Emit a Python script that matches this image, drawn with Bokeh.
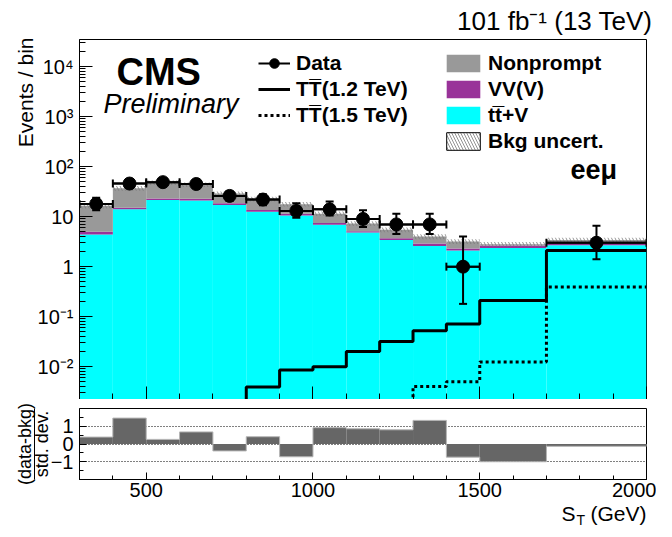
import math
from bokeh.plotting import figure
from bokeh.layouts import column
from bokeh.models import (ColumnDataSource, FixedTicker, Label, Legend, LegendItem,
                          Whisker, TeeHead, Range1d, Title, LinearAxis)
from bokeh.embed import file_html
from bokeh.resources import INLINE

# ---------------- data ----------------
bin_edges = [300, 400, 500, 600, 700, 800, 900, 1000, 1100, 1200, 1300, 1400, 1500, 1700, 2000]
ttV = [4.4, 14.1, 21.5, 21.0, 17.2, 12.5, 10.5, 6.9, 4.8, 3.4, 2.6, 2.1, 2.35, 2.67]
VVV = [0.6, 0.9, 1.5, 1.7, 1.4, 1.1, 0.9, 0.6, 0.3, 0.3, 0.3, 0.2, 0.3, 0.28]
nonprompt = [11.5, 22.0, 25.0, 21.0, 10.4, 8.9, 6.4, 4.0, 2.2, 1.8, 1.1, 0.9, 0.15, 0.45]
bkg_unc = [2.0, 4.0, 5.0, 4.5, 3.0, 2.4, 1.9, 1.2, 0.8, 0.6, 0.45, 0.35, 0.3, 0.4]
sig_12 = [None, None, None, None, 0, 0.0039, 0.0086, 0.010, 0.020, 0.032, 0.052, 0.071, 0.21, 2.1]
sig_15 = [None, None, None, None, None, 0, 0, 0, 0, 0, 0.004, 0.005, 0.0124, 0.39]
data_n = [18, 46, 49, 45, 26, 22, 13, 14, 9, 7, 7, 1, None, 3]
data_lo = [13.5, 39, 42, 38, 20.5, 17, 9.5, 10.5, 6.2, 4.5, 4.5, 0.18, None, 1.4]
data_hi = [24, 54, 57, 53, 32, 28, 18.5, 20, 13.5, 11.5, 11.5, 4.0, None, 6.6]
pull = [0.39, 1.46, 0.26, 0.68, -0.39, 0.41, -0.72, 0.92, 0.86, 0.80, 1.33, -0.74, -1.0, -0.13]

y_major = [1e-2, 1e-1, 1, 10, 1e2, 1e3, 1e4]
y_major_labels = ["10\u207b\u00b2", "10\u207b\u00b9", "1", "10", "10\u00b2", "10\u00b3", "10\u2074"]
x_major = [500, 1000, 1500, 2000]

FONT = "Liberation Sans"
Y_MIN, Y_MAX = 0.0022, 3.5e4
FLOOR = 1e-6
LB, RB, FW = 79, 10, 567
C_TTV, C_VV, C_NP = "#00ffff", "#993399", "#999999"

lefts = bin_edges[:-1]
rights = bin_edges[1:]
c1 = ttV
c2 = [a + b for a, b in zip(ttV, VVV)]
c3 = [a + b for a, b in zip(c2, nonprompt)]


def set_standoff(t, v, fallback=0):
    try:
        t.standoff = v
    except Exception:
        t.standoff = fallback


# ---------------- main figure ----------------
p = figure(frame_width=FW, frame_height=360, min_border_left=LB, min_border_right=RB,
           min_border_top=38, min_border_bottom=0, y_axis_type="log",
           x_range=Range1d(300, 2000), y_range=Range1d(Y_MIN, Y_MAX),
           output_backend="svg", toolbar_location=None)
p.outline_line_color = "black"
p.outline_line_width = 1
p.grid.visible = False

p.title.text = "101 fb\u207b\u00b9 (13 TeV)"
p.title.align = "right"
p.title.text_font = FONT
p.title.text_font_size = "26px"
p.title.text_font_style = "normal"
p.title.text_color = "black"
p.title.offset = -6
p.title.standoff = 7

r_tt = p.quad(left=lefts, right=rights, bottom=[FLOOR] * len(c1), top=c1, fill_color=C_TTV, line_color=None)
r_vv = p.quad(left=lefts, right=rights, bottom=c1, top=c2, fill_color=C_VV, line_color=None)
r_np = p.quad(left=lefts, right=rights, bottom=c2, top=c3, fill_color=C_NP, line_color=None)
band_src = ColumnDataSource(dict(left=lefts, right=rights,
                                 bottom=[t - u for t, u in zip(c3, bkg_unc)],
                                 top=[t + u for t, u in zip(c3, bkg_unc)]))
p.quad(left="left", right="right", bottom="bottom", top="top", source=band_src,
       fill_color=None, line_color=None, hatch_pattern="\\", hatch_color="#777777",
       hatch_weight=0.8, hatch_scale=7)
r_un = p.quad(left="left", right="right", bottom="bottom", top="top", source=band_src,
              fill_color=None, line_color="black", line_width=1, hatch_pattern="\\",
              hatch_color="#777777", hatch_weight=0.8, hatch_scale=6, visible=False)


def step_xy(vals):
    xs, ys = [], []
    for i, v in enumerate(vals):
        if v is None:
            continue
        yv = v if v > 0 else FLOOR
        xs += [bin_edges[i], bin_edges[i + 1]]
        ys += [yv, yv]
    return xs, ys


x12, y12 = step_xy(sig_12)
x15, y15 = step_xy(sig_15)
r12 = p.line(x12, y12, line_color="black", line_width=3)
r15 = p.line(x15, y15, line_color="black", line_width=3, line_dash="3 3")

idx = [i for i, v in enumerate(data_n) if v is not None]
dsrc = ColumnDataSource(dict(
    x=[(bin_edges[i] + bin_edges[i + 1]) / 2 for i in idx],
    y=[data_n[i] for i in idx],
    lo=[data_lo[i] for i in idx],
    hi=[data_hi[i] for i in idx],
    xlo=[bin_edges[i] for i in idx],
    xhi=[bin_edges[i + 1] for i in idx],
))
r_dseg = p.segment(x0="xlo", y0="y", x1="xhi", y1="y", source=dsrc, line_color="black", line_width=2)
p.add_layout(Whisker(source=dsrc, base="x", lower="lo", upper="hi", dimension="height",
                     line_width=2, line_color="black", level="glyph",
                     upper_head=TeeHead(size=8, line_width=2), lower_head=TeeHead(size=8, line_width=2)))
p.add_layout(Whisker(source=dsrc, base="y", lower="xlo", upper="xhi", dimension="width",
                     line_width=2, line_color="black", level="glyph",
                     upper_head=TeeHead(size=8, line_width=2), lower_head=TeeHead(size=8, line_width=2)))
r_dpt = p.scatter("x", "y", source=dsrc, size=13, fill_color="black", line_color="black")

leg_common = dict(border_line_color=None, background_fill_alpha=0, padding=0, margin=0,
                  label_text_font=FONT, label_text_font_style="bold", label_text_font_size="21px",
                  label_text_color="black", spacing=2, label_height=24, label_text_baseline="middle")
leg1 = Legend(items=[LegendItem(label="Data", renderers=[r_dseg, r_dpt]),
                     LegendItem(label="TT\u0305(1.2 TeV)", renderers=[r12]),
                     LegendItem(label="TT\u0305(1.5 TeV)", renderers=[r15])],
              location=(179, 272), glyph_width=32, glyph_height=24, label_standoff=6, **leg_common)
leg2 = Legend(items=[LegendItem(label="Nonprompt", renderers=[r_np]),
                     LegendItem(label="VV(V)", renderers=[r_vv]),
                     LegendItem(label="tt\u0305+V", renderers=[r_tt]),
                     LegendItem(label="Bkg uncert.", renderers=[r_un])],
              location=(363, 246), glyph_width=42, glyph_height=22, label_standoff=4, **leg_common)
p.add_layout(leg1)
p.add_layout(leg2)

# axes styling
p.yaxis.ticker = FixedTicker(ticks=y_major,
                             minor_ticks=[m * 10 ** e for e in range(-3, 5) for m in range(2, 10)])
p.yaxis.major_label_overrides = {float(k): v for k, v in zip(y_major, y_major_labels)}
p.xaxis.ticker = FixedTicker(ticks=x_major, minor_ticks=list(range(300, 2001, 100)))
for ax in (p.xaxis[0], p.yaxis[0]):
    ax.major_tick_in = 13
    ax.major_tick_out = 0
    ax.minor_tick_in = 6
    ax.minor_tick_out = 0
    ax.axis_line_color = "black"
    ax.major_tick_line_color = "black"
    ax.minor_tick_line_color = "black"
p.yaxis.major_label_text_font = FONT
p.yaxis.major_label_text_font_size = "20px"
p.yaxis.major_label_text_color = "black"
p.yaxis.major_label_standoff = 6
p.xaxis.major_label_overrides = {float(v): "" for v in x_major}
p.xaxis.major_label_text_font_size = "0px"
p.xaxis.major_label_standoff = 0

t_ev = Title(text="Events / bin", align="right", vertical_align="middle", text_font=FONT,
             text_font_size="21px", text_font_style="normal", text_color="black", offset=-2)
set_standoff(t_ev, -6)
p.add_layout(t_ev, "left")

# texts inside the frame
p.add_layout(Label(x=37, y=328, x_units="screen", y_units="screen", text="CMS",
                   text_font=FONT, text_font_size="38px", text_font_style="bold",
                   text_color="black", text_baseline="middle"))
p.add_layout(Label(x=24, y=296, x_units="screen", y_units="screen", text="Preliminary",
                   text_font=FONT, text_font_size="27px", text_font_style="italic",
                   text_color="black", text_baseline="middle"))
p.add_layout(Label(x=491, y=230, x_units="screen", y_units="screen", text="ee\u03bc",
                   text_font=FONT, text_font_size="27px", text_font_style="bold",
                   text_color="black", text_baseline="middle"))

# ---------------- ratio figure ----------------
q = figure(frame_width=FW, frame_height=71, min_border_left=LB, min_border_right=RB,
           min_border_top=9, min_border_bottom=24,
           x_range=p.x_range, y_range=Range1d(-2, 2),
           output_backend="svg", toolbar_location=None)
q.outline_line_color = "black"
q.xgrid.visible = False
q.ygrid.ticker = FixedTicker(ticks=[-1, 0, 1])
q.ygrid.grid_line_color = "black"
q.ygrid.grid_line_dash = "1 2"
q.ygrid.grid_line_width = 1

q.quad(left=lefts, right=rights, bottom=[0] * len(pull), top=pull, fill_color="#666666", line_color=None)
sx = [bin_edges[0]]
sy = [0]
for i, v in enumerate(pull):
    sx += [bin_edges[i], bin_edges[i + 1]]
    sy += [v, v]
sx.append(bin_edges[-1])
sy.append(0)
q.line(sx, sy, line_color="#b5b5b5", line_width=1)

q.xaxis.ticker = FixedTicker(ticks=x_major, minor_ticks=list(range(300, 2001, 100)))
q.yaxis.ticker = FixedTicker(ticks=[-1, 0, 1], minor_ticks=[-1.5, -0.5, 0.5, 1.5])
q.yaxis.major_label_overrides = {-1: "\u22121"}
for ax in (q.xaxis[0], q.yaxis[0]):
    ax.major_tick_in = 7
    ax.major_tick_out = 0
    ax.minor_tick_in = 4
    ax.minor_tick_out = 0
    ax.major_label_text_font = FONT
    ax.major_label_text_font_size = "20px"
    ax.major_label_text_color = "black"
    ax.axis_line_color = "black"
q.xaxis.major_label_standoff = 3
q.yaxis.major_label_standoff = 6

t_sd = Title(text="std. dev.", align="center", text_font=FONT, text_font_size="18px",
             text_font_style="normal", text_color="black")
set_standoff(t_sd, -9)
q.add_layout(t_sd, "left")
frac_axis = LinearAxis(ticker=FixedTicker(ticks=[]), axis_line_color="black", axis_line_width=1,
                       major_tick_line_color=None, minor_tick_line_color=None,
                       major_tick_out=0, minor_tick_out=0, major_label_standoff=0,
                       axis_label_standoff=0)
q.add_layout(frac_axis, "left")
t_db = Title(text="(data-bkg)", align="center", text_font=FONT, text_font_size="18px",
             text_font_style="normal", text_color="black")
set_standoff(t_db, -1)
q.add_layout(t_db, "left")

# ---------------- x-axis title strip ----------------
r = figure(frame_width=FW, frame_height=28, min_border_left=LB, min_border_right=RB,
           min_border_top=0, min_border_bottom=0, x_axis_location=None, y_axis_location=None,
           x_range=Range1d(0, 1), y_range=Range1d(0, 1),
           output_backend="svg", toolbar_location=None)
r.outline_line_color = None
r.grid.visible = False
r.add_layout(Label(x=482, y=18, x_units="screen", y_units="screen", text="S",
                   text_font=FONT, text_font_size="21px", text_color="black", text_baseline="middle"))
r.add_layout(Label(x=497, y=12, x_units="screen", y_units="screen", text="T",
                   text_font=FONT, text_font_size="14px", text_color="black", text_baseline="middle"))
r.add_layout(Label(x=567, y=18, x_units="screen", y_units="screen", text="(GeV)",
                   text_font=FONT, text_font_size="21px", text_color="black",
                   text_align="right", text_baseline="middle"))

layout = column(p, q, r, spacing=0)
open("out.html", "w").write(file_html(layout, INLINE))
